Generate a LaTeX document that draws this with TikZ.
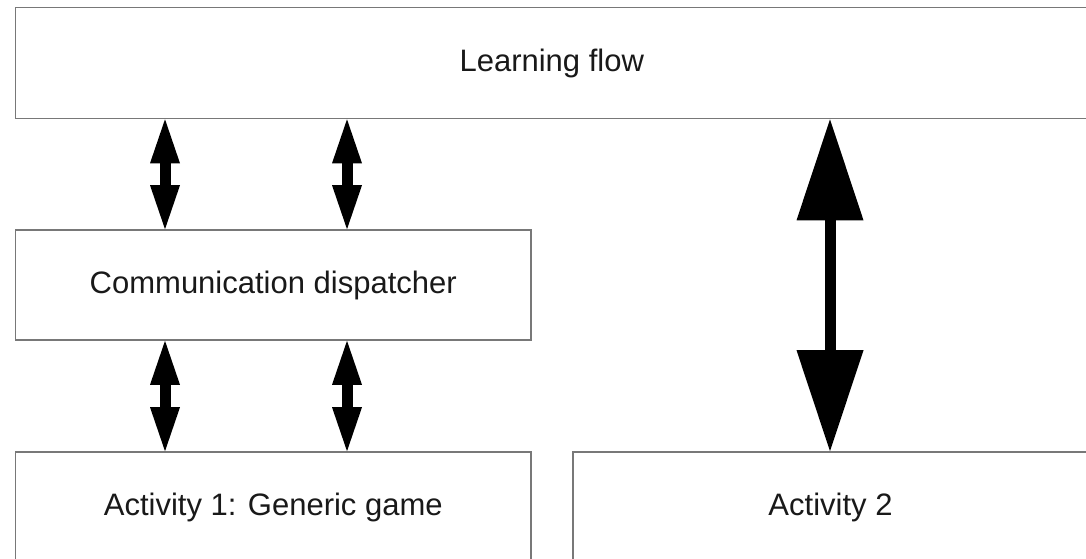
\documentclass[tikz,border=0pt]{standalone}
\usepackage{fontspec}
\setmainfont{Liberation Sans}
\usetikzlibrary{arrows.meta}
\definecolor{boxline}{RGB}{120,120,120}
\definecolor{txt}{RGB}{25,25,25}
\begin{document}
\begin{tikzpicture}[x=1pt,y=-1pt,
  box/.style={draw=boxline, line width=1.6pt, fill=white, rectangle, inner sep=0pt,
    text=txt, font=\fontsize{31}{36}\selectfont},
  smallarrow/.style={line width=11pt, {Triangle[width=30pt,length=44pt,line width=0pt]}-{Triangle[width=30pt,length=44pt,line width=0pt]}},
  bigarrow/.style={line width=11pt, {Triangle[width=67pt,length=101pt,line width=0pt]}-{Triangle[width=67pt,length=101pt,line width=0pt]}}
]
\useasboundingbox[fill=white] (0,0) rectangle (1086,558);
\node[box, minimum width=1072.5pt, minimum height=111pt] (lf) at (551.75,63) {Learning flow};
\node[box, minimum width=515.5pt, minimum height=110pt] (cd) at (273.25,285) {Communication dispatcher};
\node[box, minimum width=515.5pt, minimum height=110pt] (a1) at (273.25,507) {Activity 1: Generic game};
\node[box, minimum width=515pt, minimum height=110pt] (a2) at (830.5,507) {Activity 2};
\coordinate (x1) at (165,0);
\coordinate (x2) at (347,0);
\coordinate (x3) at (830,0);
\draw[smallarrow] (x1 |- lf.south) -- (x1 |- cd.north);
\draw[smallarrow] (x2 |- lf.south) -- (x2 |- cd.north);
\draw[smallarrow] (x1 |- cd.south) -- (x1 |- a1.north);
\draw[smallarrow] (x2 |- cd.south) -- (x2 |- a1.north);
\draw[bigarrow] (x3 |- lf.south) -- (x3 |- a2.north);
\end{tikzpicture}
\end{document}
